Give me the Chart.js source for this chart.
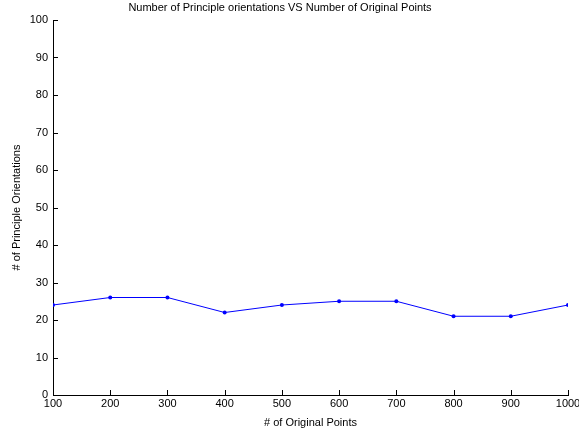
<!DOCTYPE html>
<html>
<head>
<meta charset="utf-8">
<script src="https://cdn.jsdelivr.net/npm/chart.js@4"></script>
<style>
  html, body { margin: 0; padding: 0; background: #fff; }
  #wrap { width: 579px; height: 434px; }
</style>
</head>
<body>
<div id="wrap"><canvas id="myChart" width="579" height="434"></canvas></div>
<script>
// data
const points = [100, 200, 300, 400, 500, 600, 700, 800, 900, 1000];
const orientations = [24, 26, 26, 22, 24, 25, 25, 21, 21, 24];
const titleText = "Number of Principle orientations VS Number of Original Points";

const font = { family: "'Liberation Sans', Arial, sans-serif", size: 11 };

// matlab style ticks pointing into the axes
const innerTicks = {
    id: "innerTicks",
    afterDraw(chart) {
        const c = chart.ctx;
        const xs = chart.scales.x;
        const ys = chart.scales.y;
        const a = chart.chartArea;
        c.save();
        c.strokeStyle = "#000";
        c.lineWidth = 1;
        c.beginPath();
        xs.ticks.forEach((t) => {
            const px = Math.round(xs.getPixelForValue(t.value)) + 0.5;
            c.moveTo(px, a.bottom);
            c.lineTo(px, a.bottom - 5);
        });
        ys.ticks.forEach((t) => {
            const py = Math.round(ys.getPixelForValue(t.value)) + 0.5;
            c.moveTo(a.left, py);
            c.lineTo(a.left + 5, py);
        });
        c.stroke();
        // title
        c.fillStyle = "#000";
        c.font = "11px " + font.family;
        c.textAlign = "center";
        c.textBaseline = "middle";
        c.fillText(titleText, 280, 8);
        c.restore();
    },
};

const ctx = document.getElementById("myChart").getContext("2d");
const myChart = new Chart(ctx, {
    type: "line",
    data: {
        datasets: [
            {
                label: "orientations",
                data: points.map((p, i) => ({ x: p, y: orientations[i] })),
                borderColor: "rgb(0, 0, 255)",
                backgroundColor: "rgb(0, 0, 255)",
                borderWidth: 1,
                pointRadius: 2,
                pointBorderWidth: 0,
                tension: 0,
            },
        ],
    },
    options: {
        responsive: false,
        animation: false,
        layout: { padding: { top: 20, right: 11, left: 0, bottom: 0 } },
        plugins: {
            legend: { display: false },
            tooltip: { enabled: false },
        },
        scales: {
            x: {
                type: "linear",
                min: 100,
                max: 1000,
                afterFit: (s) => { s.height = 39; s.paddingRight = 0; s.paddingLeft = 0; },
                ticks: { stepSize: 100, color: "#000", font: font, padding: 2, maxRotation: 0, callback: (v) => String(v) },
                grid: { drawOnChartArea: false, drawTicks: false },
                border: { color: "#000", width: 1 },
                title: { display: true, text: "# of Original Points", color: "#000", font: font, padding: { top: 0, bottom: 4 } },
            },
            y: {
                min: 0,
                max: 100,
                afterFit: (s) => { s.width = 53; s.paddingTop = 0; s.paddingBottom = 0; },
                ticks: { stepSize: 10, color: "#000", font: font, padding: 5 },
                grid: { drawOnChartArea: false, drawTicks: false },
                border: { color: "#000", width: 1 },
                title: { display: true, text: "# of Principle Orientations", color: "#000", font: font, padding: { top: 10, bottom: 0 } },
            },
        },
    },
    plugins: [innerTicks],
});
</script>
</body>
</html>
